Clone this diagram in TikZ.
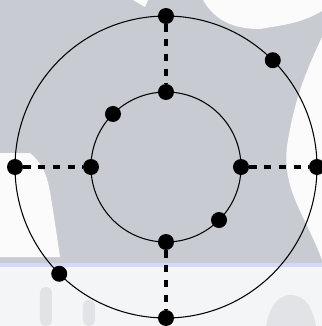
\documentclass[tikz,border=0pt]{standalone}
\usepackage{tikz}
\usetikzlibrary{calc}

\definecolor{bggray}{RGB}{201,203,211}
\definecolor{bglight}{RGB}{244,245,247}
\definecolor{bgline}{RGB}{213,216,247}
\definecolor{bgmark}{RGB}{226,227,231}

\begin{document}
\begin{tikzpicture}[
    x=0.02cm,
    y=0.02cm,
    ring/.style={
        draw=black,
        line width=0.6pt
    },
    spoke/.style={
        draw=black,
        line width=2.6pt,
        dash pattern=on 4.2pt off 4.2pt
    },
    dot/.style={
        circle,
        fill=black,
        inner sep=0pt,
        minimum size=0.32cm
    },
    blob/.style={
        fill=white!60!bglight,
        draw=none
    }
]

% =====================================================
% Background
% =====================================================

\useasboundingbox (-166,-159) rectangle (156,167);

\fill[bglight] (-166,-159) rectangle (156,167);
\fill[bggray] (-166,-96) rectangle (156,167);
\fill[bgline] (-166,-100) rectangle (156,-96);

\fill[blob] (-166,14) -- (-136,14) to[out=-40,in=100] (-113,-43)
    -- (-106,-90) -- (-166,-90) -- cycle;
\fill[blob] (156,130) to[out=-115,in=80] (122,27)
    to[out=-100,in=110] (156,-93) -- cycle;
\fill[blob] (37,167) to[out=-60,in=180] (94,138)
    to[out=10,in=-150] (156,156) -- (156,167) -- cycle;
\fill[blob] (-33,167) -- (-18,167) -- (-21,160) -- cycle;

\fill[bgmark, rounded corners=3pt] (-126,-159) rectangle (-114,-120);
\fill[bgmark, rounded corners=3pt] (-83,-159) rectangle (-71,-133);
\fill[bgmark] (100,-159) to[out=80,in=180] (125,-128)
    to[out=0,in=100] (150,-159) -- cycle;

% =====================================================
% Rings
% =====================================================

\coordinate (C) at (0,0);

\draw[ring] (C) circle [radius=151];
\draw[ring] (C) circle [radius=75];

% =====================================================
% Dots
% =====================================================

\node[dot] (OT)  at (90:151) {};
\node[dot] (OL)  at (180:151) {};
\node[dot] (OR)  at (0:151) {};
\node[dot] (OB)  at (270:151) {};
\node[dot] (ONE) at (45:151) {};
\node[dot] (OSW) at (225:151) {};

\node[dot] (IT)  at (90:75) {};
\node[dot] (IL)  at (180:75) {};
\node[dot] (IR)  at (0:75) {};
\node[dot] (IB)  at (270:75) {};
\node[dot] (INW) at (135:75) {};
\node[dot] (ISE) at (-45:75) {};

% =====================================================
% Spokes
% =====================================================

\draw[spoke] (OT) -- (IT);
\draw[spoke] (OL) -- (IL);
\draw[spoke] (IR) -- (OR);
\draw[spoke] (IB) -- (OB);

\end{tikzpicture}
\end{document}
